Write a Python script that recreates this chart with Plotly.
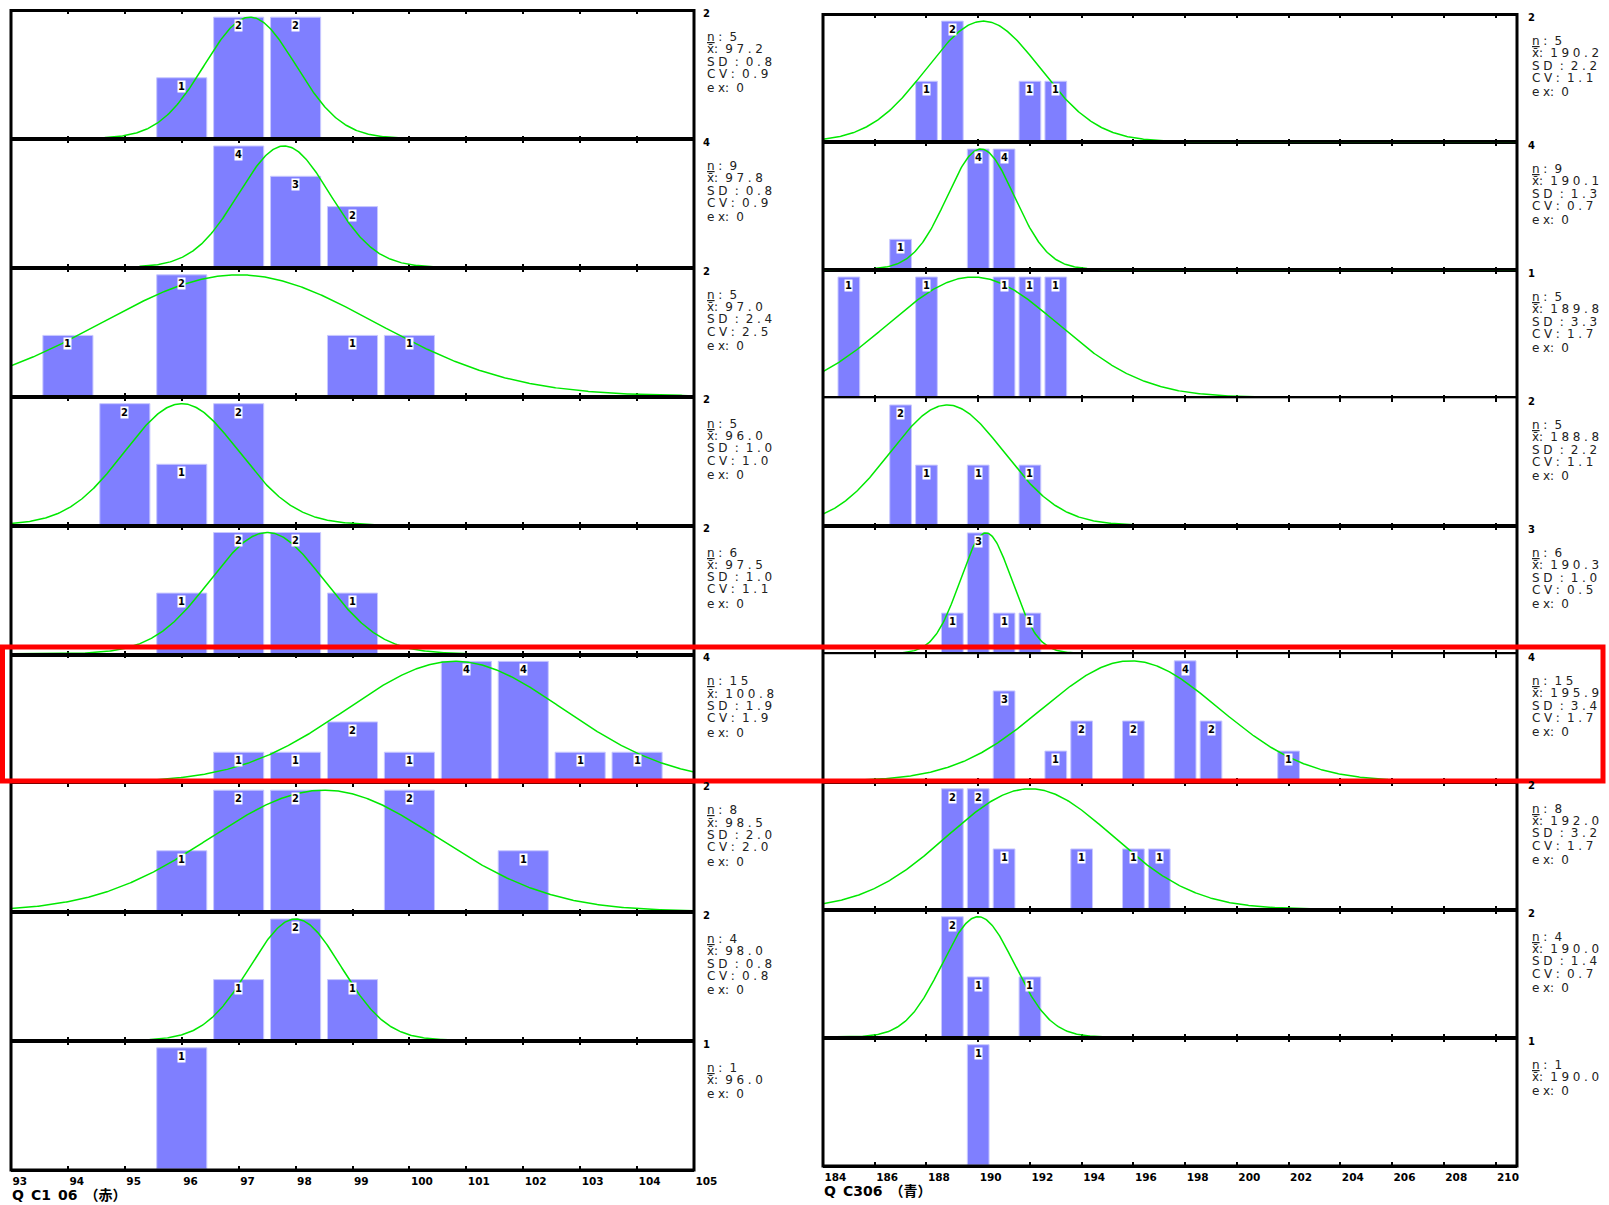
import numpy as np
import plotly.graph_objects as go

W, H = 1609, 1205

# ---------------- data ----------------
left_title = "Q\u2002C1\u200206\u2002（赤）"
left_bins = [[96, 97, 98], [97, 98, 99], [94, 96, 99, 100], [95, 96, 97], [96, 97, 98, 99],
             [97, 98, 99, 100, 101, 102, 103, 104], [96, 97, 98, 100, 102], [97, 98, 99], [96]]
left_counts = [[1, 2, 2], [4, 3, 2], [1, 2, 1, 1], [2, 1, 2], [1, 2, 2, 1],
               [1, 1, 2, 1, 4, 4, 1, 1], [1, 2, 2, 2, 1], [1, 2, 1], [1]]
left_n = [5, 9, 5, 5, 6, 15, 8, 4, 1]
left_mean = [97.2, 97.8, 97.0, 96.0, 97.5, 100.8, 98.5, 98.0, 96.0]
left_sd = [0.8, 0.8, 2.4, 1.0, 1.0, 1.9, 2.0, 0.8, None]
left_cv = [0.9, 0.9, 2.5, 1.0, 1.1, 1.9, 2.0, 0.8, None]
left_ex = [0, 0, 0, 0, 0, 0, 0, 0, 0]
left_range = [93, 105]

right_title = "Q\u2002C306\u2002（青）"
right_bins = [[188, 189, 192, 193], [187, 190, 191], [185, 188, 191, 192, 193], [187, 188, 190, 192],
              [189, 190, 191, 192], [191, 193, 194, 196, 198, 199, 202], [189, 190, 191, 194, 196, 197],
              [189, 190, 192], [190]]
right_counts = [[1, 2, 1, 1], [1, 4, 4], [1, 1, 1, 1, 1], [2, 1, 1, 1], [1, 3, 1, 1],
                [3, 1, 2, 2, 4, 2, 1], [2, 2, 1, 1, 1, 1], [2, 1, 1], [1]]
right_n = [5, 9, 5, 5, 6, 15, 8, 4, 1]
right_mean = [190.2, 190.1, 189.8, 188.8, 190.3, 195.9, 192.0, 190.0, 190.0]
right_sd = [2.2, 1.3, 3.3, 2.2, 1.0, 3.4, 3.2, 1.4, None]
right_cv = [1.1, 0.7, 1.7, 1.1, 0.5, 1.7, 1.7, 0.7, None]
right_ex = [0, 0, 0, 0, 0, 0, 0, 0, 0]
right_range = [184, 210.83]

# ---------------- styling / geometry ----------------
BAR = "#7f7fff"
BAR_EDGE = "#c8c8ff"
GREEN = "#00e800"
TXT = "#222222"
T = "\u2009\u200a"


def sp(s):
    return T.join(s)


cols = [
    dict(bins=left_bins, counts=left_counts, n=left_n, mean=left_mean, sd=left_sd, cv=left_cv,
         ex=left_ex, rng=left_range, tick0=93, dtick=1, barw=0.88, title=left_title,
         px=(11, 694), py=(10.5, 1170), stx=705, mlx=701, ty=1195),
    dict(bins=right_bins, counts=right_counts, n=right_n, mean=right_mean, sd=right_sd, cv=right_cv,
         ex=right_ex, rng=right_range, tick0=184, dtick=2, barw=0.84, title=right_title,
         px=(823, 1517), py=(14.5, 1166), stx=1530, mlx=1526, ty=1191),
]

fig = go.Figure()
annotations = []
shapes = []
axes = {}
idx = 0
for c in cols:
    x0p, x1p = c["px"]
    y0p, y1p = c["py"]
    ph = (y1p - y0p) / 9
    for k in range(9):
        idx += 1
        xa = "x" if idx == 1 else f"x{idx}"
        ya = "y" if idx == 1 else f"y{idx}"
        top = y0p + k * ph
        bot = top + ph
        cmax = max(c["counts"][k])
        ytop = cmax * 1.055
        span = ytop / (1 - 1.0 / ph)
        yr = [ytop - span, ytop]
        rng = c["rng"]

        fig.add_trace(go.Bar(x=c["bins"][k], y=c["counts"][k], width=c["barw"],
                             marker=dict(color=BAR, line=dict(color=BAR_EDGE, width=1)),
                             xaxis=xa, yaxis=ya, hoverinfo="skip", showlegend=False))
        sd = c["sd"][k]
        mean = c["mean"][k]
        if sd is not None:
            xs = np.linspace(rng[0], rng[1], 700)
            z = (xs - mean) / sd
            ys = np.where(np.abs(z) <= 3.3, cmax * np.exp(-0.5 * z * z), 0.0)
            fig.add_trace(go.Scatter(x=xs, y=ys, mode="lines", line=dict(color=GREEN, width=1.5),
                                     xaxis=xa, yaxis=ya, hoverinfo="skip", showlegend=False))
            lo = max(rng[0], mean - 3.3 * sd)
            hi = min(rng[1], mean + 3.3 * sd)
            fig.add_trace(go.Scatter(x=[lo, hi], y=[0, 0], mode="lines", line=dict(color="black", width=1.5),
                                     xaxis=xa, yaxis=ya, hoverinfo="skip", showlegend=False))

        # bar count labels
        for b, v in zip(c["bins"][k], c["counts"][k]):
            annotations.append(dict(x=b, y=v, xref=xa, yref=ya, text=f"<b>{v}</b>", showarrow=False,
                                    yanchor="top", yshift=-2, bgcolor="white", borderpad=0,
                                    font=dict(size=10, color="black", family="DejaVu Sans")))

        axn = "" if idx == 1 else str(idx)
        last = (k == 8)
        axes["xaxis" + axn] = dict(
            domain=[x0p / W, x1p / W], range=rng, anchor=ya, showgrid=False, zeroline=False,
            showline=True, linecolor="black", linewidth=1.5, mirror="ticks",
            ticks="inside", ticklen=4, tickwidth=1.5, tickcolor="black",
            tickmode="linear", tick0=c["tick0"], dtick=c["dtick"],
            showticklabels=last, ticklabelposition="outside right", ticklabelstandoff=1,
            tickfont=dict(size=10.5, color="black", family="DejaVu Sans", weight="bold"),
            automargin=False, layer="below traces", fixedrange=True)
        axes["yaxis" + axn] = dict(
            domain=[1 - bot / H, 1 - top / H], range=yr, anchor=xa, showgrid=False, zeroline=False,
            showline=False, showticklabels=False, ticks="", automargin=False, fixedrange=True)

        # max count label at panel top right
        annotations.append(dict(x=c["mlx"] / W, y=1 - (top + 3) / H, xref="paper", yref="paper",
                                text=f"<b>{cmax}</b>", showarrow=False, xanchor="left", yanchor="middle",
                                font=dict(size=10, color="black", family="DejaVu Sans")))

        # stats text
        lines = [f"<u>n</u>{T}:{T}{T}{sp(str(c['n'][k]))}",
                 f"x\u0304:{T}{T}{sp(f'{mean:.1f}')}"]
        if sd is not None:
            lines.append(f"{sp('SD')}{T}{T}:{T}{T}{sp(f'{sd:.1f}')}")
            lines.append(f"{sp('CV')}{T}:{T}{T}{sp(f'{c['cv'][k]:.1f}')}")
        lines.append(f"{sp('ex')}:{T}{T}{sp(str(c['ex'][k]))}")
        offs = [26.7, 39, 51.3, 63.6, 78] if sd is not None else [26.7, 39, 52.5]
        for ln, o in zip(lines, offs):
            annotations.append(dict(x=c["stx"] / W, y=1 - (top + o) / H, xref="paper", yref="paper",
                                    text=ln, showarrow=False, xanchor="left", yanchor="middle",
                                    font=dict(size=12, color=TXT, family="DejaVu Sans")))

    # column border
    shapes.append(dict(type="rect", xref="paper", yref="paper", x0=x0p / W, x1=x1p / W,
                       y0=1 - y1p / H, y1=1 - y0p / H, line=dict(color="black", width=3),
                       fillcolor="rgba(0,0,0,0)", layer="above"))
    annotations.append(dict(x=(x0p - 1) / W, y=1 - c["ty"] / H, xref="paper", yref="paper",
                            text=c["title"], showarrow=False, xanchor="left", yanchor="middle",
                            font=dict(size=14, color="black", family="DejaVu Sans, Noto Sans CJK JP",
                                      weight="bold")))

# red highlight rectangle
shapes.append(dict(type="rect", xref="paper", yref="paper", x0=2.5 / W, x1=1603 / W,
                   y0=1 - 781 / H, y1=1 - 647 / H, line=dict(color="#ff0000", width=5),
                   fillcolor="rgba(0,0,0,0)", layer="above"))

fig.update_layout(width=W, height=H, margin=dict(l=0, r=0, t=0, b=0, pad=0, autoexpand=False),
                  autosize=False, paper_bgcolor="white", plot_bgcolor="white", barmode="overlay",
                  annotations=annotations, shapes=shapes, showlegend=False, **axes)
fig.write_html("out.html", config={"displayModeBar": False})
